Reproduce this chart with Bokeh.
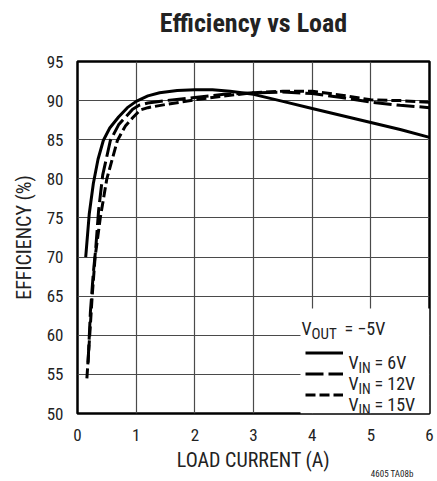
from bokeh.plotting import figure
from bokeh.models import Range1d, Label, Legend, LegendItem, BoxAnnotation, FixedTicker, Title
from bokeh.embed import file_html
from bokeh.resources import INLINE

# ---- data ----
x_ticks = [0, 1, 2, 3, 4, 5, 6]
y_ticks = [50, 55, 60, 65, 70, 75, 80, 85, 90, 95]

load_6v = [0.14, 0.2, 0.27, 0.35, 0.44, 0.55, 0.7, 0.85, 1.0, 1.2, 1.4, 1.7, 2.0, 2.3, 2.6, 3.0, 3.5, 4.0, 4.5, 5.0, 5.5, 6.0]
eff_6v = [70.0, 75.5, 79.4, 82.5, 84.9, 86.5, 87.9, 89.1, 89.9, 90.6, 91.0, 91.3, 91.4, 91.4, 91.2, 90.8, 89.9, 89.0, 88.1, 87.2, 86.3, 85.3]

load_12v = [0.18, 0.22, 0.27, 0.31, 0.36, 0.43, 0.56, 0.7, 0.82, 0.94, 1.05, 1.2, 1.5, 2.0, 2.5, 3.0, 3.5, 4.0, 4.5, 5.0, 5.5, 6.0]
eff_12v = [56.5, 63.0, 68.0, 71.0, 76.0, 80.5, 84.9, 86.9, 87.9, 88.9, 89.4, 89.7, 90.0, 90.4, 90.8, 91.0, 91.1, 90.9, 90.4, 89.8, 89.4, 89.1]

load_15v = [0.16, 0.2, 0.25, 0.3, 0.39, 0.5, 0.68, 0.82, 0.94, 1.07, 1.2, 1.5, 2.0, 2.5, 3.0, 3.5, 4.0, 4.5, 5.0, 5.5, 6.0]
eff_15v = [54.5, 59.0, 65.0, 70.0, 75.1, 80.0, 84.9, 86.8, 87.8, 88.8, 89.1, 89.5, 90.1, 90.6, 91.0, 91.2, 91.2, 90.7, 90.1, 90.0, 89.8]

FONT = "'Roboto Condensed', Roboto, 'Liberation Sans', sans-serif"
TXT = "#222222"

# ---- layout (page pixels; the page has no body margin) ----
W, H = 437, 481
FL, FR, FT, FB = 77, 429, 61, 413   # frame edges

p = figure(width=W, height=H, output_backend="svg", toolbar_location=None,
           x_range=Range1d(0, 6), y_range=Range1d(50, 95),
           min_border_left=FL, min_border_right=W - FR,
           min_border_top=FT, min_border_bottom=H - FB)

# a blank second line lifts the title toward the top of the page
p.title.text = "Efficiency vs Load\n\u00a0"
p.title.align = "center"
p.title.vertical_align = "top"
p.title.text_font = FONT
p.title.text_font_size = "26px"
p.title.text_font_style = "bold"
p.title.text_color = TXT
p.title.standoff = -16


def dx(px):
    return (px - FL) / ((FR - FL) / 6.0)


def dy(py):
    return 95 - (py - FT) / ((FB - FT) / 45.0)


p.xaxis.ticker = FixedTicker(ticks=x_ticks)
p.yaxis.ticker = FixedTicker(ticks=y_ticks)
for ax in (p.xaxis[0], p.yaxis[0]):
    ax.axis_line_color = None
    ax.major_tick_line_color = None
    ax.minor_tick_line_color = None
    ax.major_tick_out = 0
    ax.major_tick_in = 0
    ax.major_label_text_font = FONT
    ax.major_label_text_font_size = "17px"
    ax.major_label_text_color = TXT
    ax.axis_label_text_font = FONT
    ax.axis_label_text_font_size = "20px"
    ax.axis_label_text_font_style = "normal"
    ax.axis_label_text_color = TXT
p.xaxis.major_label_standoff = 15
p.yaxis.major_label_standoff = 14
p.xaxis.axis_label = "LOAD CURRENT (A)"
p.yaxis.axis_label = "EFFICIENCY (%)"
p.xaxis.axis_label_standoff = 4
p.yaxis.axis_label_standoff = 8

note = Title(text="4605 TA08b", align="right", vertical_align="top", text_font=FONT,
             text_font_size="9px", text_font_style="normal", text_color=TXT,
             offset=16, standoff=-12)
p.add_layout(note, "below")

p.grid.grid_line_color = "#4a4a4a"
p.grid.grid_line_width = 1.2
p.outline_line_color = "black"
p.outline_line_width = 2.5
p.background_fill_color = "white"
p.border_fill_color = "white"

# white legend box covering the grid
box = BoxAnnotation(left=dx(300), right=6, bottom=50, top=dy(308),
                    fill_color="white", fill_alpha=1.0, line_color=None)
p.add_layout(box)

r6 = p.line(load_6v, eff_6v, line_color="black", line_width=3)
r12 = p.line(load_12v, eff_12v, line_color="black", line_width=3, line_dash="18 5")
r15 = p.line(load_15v, eff_15v, line_color="black", line_width=3, line_dash="10 4")

legend = Legend(items=[LegendItem(label=" ", renderers=[r6]),
                       LegendItem(label=" ", renderers=[r12]),
                       LegendItem(label=" ", renderers=[r15])],
                location=(305 - FL, FB - 405), padding=0, margin=0, spacing=0,
                glyph_width=38, glyph_height=21, label_height=21, label_width=0,
                label_standoff=0, label_text_font_size="1px",
                background_fill_alpha=0, border_line_color=None)
p.add_layout(legend)


def lab(text, px, py, size):
    p.add_layout(Label(x=dx(px), y=dy(py), text=text, text_font=FONT,
                       text_font_size=f"{size}px", text_align="left",
                       text_baseline="alphabetic", text_color=TXT))


# legend texts with subscripts
lab("V", 301, 328, 18)
lab("OUT", 311, 333, 15)
lab("= \u22125V", 344, 328, 18)
for base, val in ((362, "= 6V"), (383, "= 12V"), (404, "= 15V")):
    lab("V", 348, base, 18)
    lab("IN", 358, base + 5, 14)
    lab(val, 374, base, 18)

open("out.html", "w").write(file_html(p, INLINE))
